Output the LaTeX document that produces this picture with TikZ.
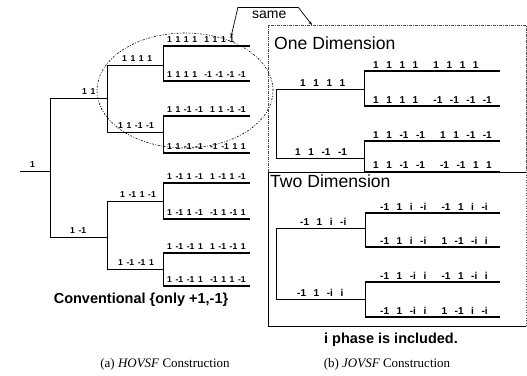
\documentclass[tikz,border=0pt]{standalone}
\usepackage{fontspec}
\setmainfont{Liberation Sans}
\newfontfamily\capfont{Liberation Serif}
\usetikzlibrary{arrows.meta}
\newcommand\lblLfmt{\fontsize{8.6}{9}\selectfont\bfseries\setlength{\spaceskip}{3.6pt}}
\newcommand\lblRfmt{\fontsize{10}{11}\selectfont\bfseries\setlength{\spaceskip}{7.6pt}}
\tikzset{
  br/.style={line width=0.8pt},
  leaf/.style={line width=1.1pt},
  lblL/.style={font=\lblLfmt, anchor=base west, inner sep=0pt},
  lblR/.style={font=\lblRfmt, anchor=base west, inner sep=0pt},
  title/.style={font=\fontsize{17.6}{19}\selectfont, anchor=base west, inner sep=0pt},
  note/.style={font=\fontsize{14.5}{16}\selectfont\bfseries, inner sep=0pt},
  capt/.style={font=\fontsize{13}{15}\selectfont\capfont, inner sep=0pt},
  frame/.style={line width=0.6pt, dash pattern=on 3pt off 1pt on 1pt off 1pt, black!70},
}
\begin{document}
\begin{tikzpicture}[x=1pt,y=-1pt]
\useasboundingbox (0,0) rectangle (527,375);

% ---------- left tree (HOVSF) ----------
\coordinate (L0) at (20,171);
\coordinate (L1) at (50,171);
\draw[br] (L0) -- (L1);
\draw[br] (50,98) -- (50,237);
\draw[br] (50,98) -- (107,98);
\draw[br] (50,237) -- (107,237);
\draw[br] (107,65) -- (107,132);
\draw[br] (107,201) -- (107,269);
\foreach \y in {65,132,201,269} \draw[br] (107,\y) -- (163,\y);
\draw[br] (163,46) -- (163,81);
\draw[br] (163,116) -- (163,153);
\draw[br] (163,183) -- (163,219);
\draw[br] (163,253) -- (163,286);
\foreach \y in {46,81,116,153,183,219,253,286} \draw[leaf] (163,\y) -- (250,\y);

\node[lblL] (l1) at (30,167.5) {1};
\node[lblL] (l11) at (82,94.5) {1 1};
\node[lblL] (l1m) at (70,233.5) {1 -1};
\node[lblL] (l1111) at (122,61.5) {1 1 1 1};
\node[lblL] (l11mm) at (118,128.5) {1 1 -1 -1};
\node[lblL] (l1m1m) at (120,197.5) {1 -1 1 -1};
\node[lblL] (l1mm1) at (118,265.5) {1 -1 -1 1};

\node[lblL] (a1) at (167,42.5) {1 1 1 1\ \ 1 1 1 1};
\node[lblL] (a2) at (167,77.5) {1 1 1 1\ \ -1 -1 -1 -1};
\node[lblL] (a3) at (167,112.5) {1 1 -1 -1\ \ 1 1 -1 -1};
\node[lblL] (a4) at (167,149.5) {1 1 -1 -1\ \ -1 -1 1 1};
\node[lblL] (a5) at (167,179.5) {1 -1 1 -1\ \ 1 -1 1 -1};
\node[lblL] (a6) at (167,215.5) {1 -1 1 -1\ \ -1 1 -1 1};
\node[lblL] (a7) at (167,249.5) {1 -1 -1 1\ \ 1 -1 -1 1};
\node[lblL] (a8) at (167,282.5) {1 -1 -1 1\ \ -1 1 1 -1};

% dash-dotted ellipse
\draw[line width=0.6pt, dash pattern=on 2pt off 1.5pt on 0.8pt off 1.5pt] (185,90.5) ellipse [x radius=88pt, y radius=57.5pt];

\node[note] (conv) at (141,300) {Conventional \{only +1,-1\}};
\node[capt] (capa) at (165,364) {(a) \textit{HOVSF} Construction};

% ---------- right panel ----------
\draw[frame] (268,25) rectangle (526,172);
\draw[line width=0.6pt] (526,326) -- (268,326) -- (268,172) -- (526,172);
\draw[frame, dotted] (526,172) -- (526,326);

\node[title] (one) at (274,49) {One Dimension};
\node[title] (two) at (270,187) {Two Dimension};

% one dimension tree
\draw[br] (276,89) -- (276,158);
\draw[br] (276,89) -- (364,89);
\draw[br] (276,158) -- (364,158);
\draw[br] (364,71) -- (364,106);
\draw[br] (364,141) -- (364,172);
\foreach \y in {71,106,141,172} \draw[leaf] (364,\y) -- (500,\y);
\node[lblR] (b1111) at (300,86) {1 1 1 1};
\node[lblR] (b11mm) at (295,155) {1 1 -1 -1};
\node[lblR] (b1) at (373,68) {1 1 1 1\ \ 1 1 1 1};
\node[lblR] (b2) at (373,103) {1 1 1 1\ \ -1 -1 -1 -1};
\node[lblR] (b3) at (373,138) {1 1 -1 -1\ \ 1 1 -1 -1};
\node[lblR] (b4) at (373,168) {1 1 -1 -1\ \ -1 -1 1 1};

% two dimension tree
\draw[br] (276,228) -- (276,299);
\draw[br] (276,228) -- (365,228);
\draw[br] (276,299) -- (365,299);
\draw[br] (365,213) -- (365,247);
\draw[br] (365,282) -- (365,317);
\foreach \y in {213,247,282,317} \draw[leaf] (365,\y) -- (500,\y);
\node[lblR] (c1) at (300,225) {-1 1 i -i};
\node[lblR] (c2) at (297,296) {-1 1 -i i};
\node[lblR] (d1) at (380,210) {-1 1 i -i\ \ -1 1 i -i};
\node[lblR] (d2) at (380,244) {-1 1 i -i\ \ 1 -1 -i i};
\node[lblR] (d3) at (380,279) {-1 1 -i i\ \ -1 1 -i i};
\node[lblR] (d4) at (380,314) {-1 1 -i i\ \ 1 -1 i -i};

\node[note] (iph) at (391,340) {i phase is included.};
\node[capt] (capb) at (387,364) {(b) \textit{JOVSF} Construction};

% ---------- "same" callout ----------
\coordinate (s1) at (238,7);
\coordinate (s2) at (298,7);
\coordinate (t1) at (231,37);
\coordinate (t2) at (312,25);
\draw[line width=0.7pt] (s1) -- (s2);
\draw[line width=0.7pt, -{Stealth[length=4pt,width=3pt]}] (s1) -- (t1);
\draw[line width=0.7pt, -{Stealth[length=4pt,width=3pt]}] (s2) -- (t2);
\node[font=\fontsize{14}{15}\selectfont, anchor=base west, inner sep=0pt] (same) at (252,18) {same};
\end{tikzpicture}
\end{document}
